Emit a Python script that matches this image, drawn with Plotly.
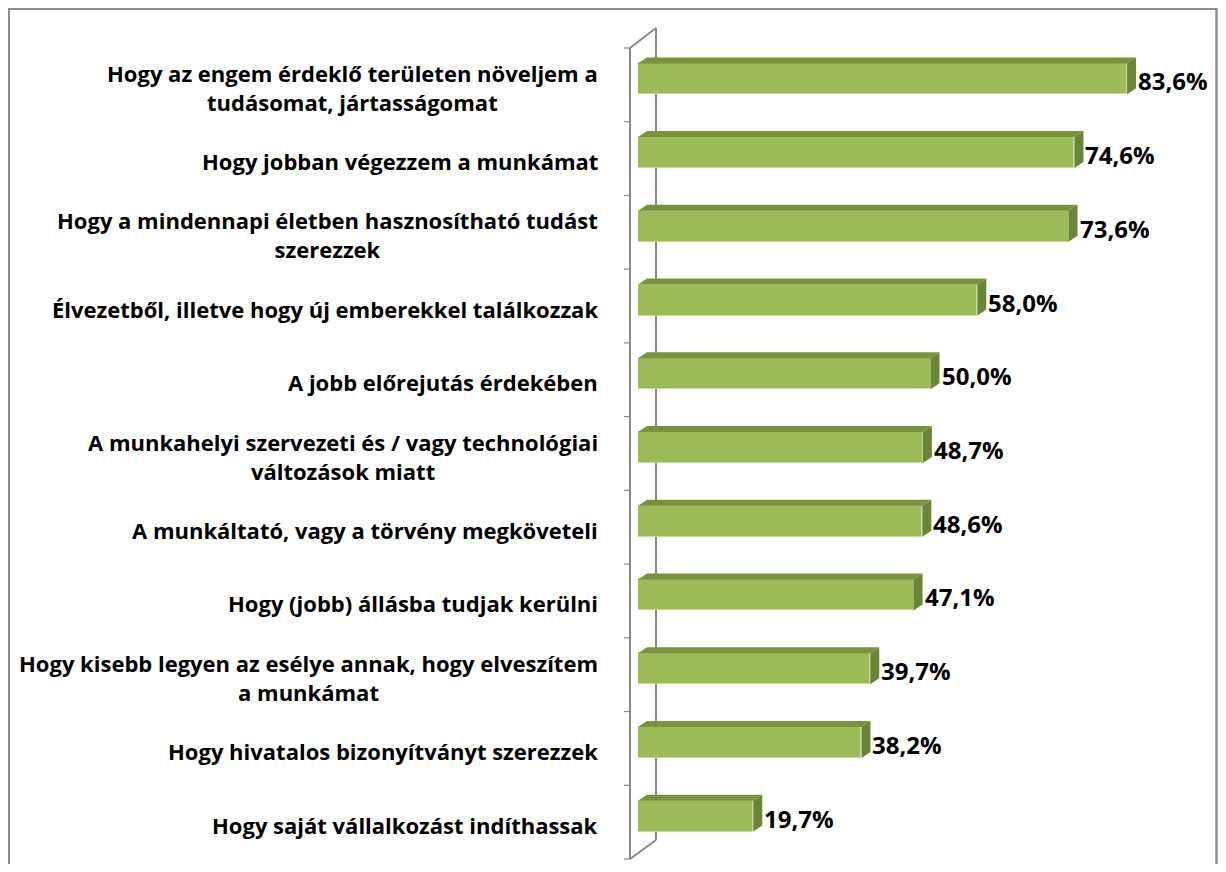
import plotly.graph_objects as go

categories = [
    "Hogy az engem érdeklő területen növeljem a<br>tudásomat, jártasságomat",
    "Hogy jobban végezzem a munkámat",
    "Hogy a mindennapi életben hasznosítható tudást<br>szerezzek",
    "Élvezetből, illetve hogy új emberekkel találkozzak",
    "A jobb előrejutás érdekében",
    "A munkahelyi szervezeti és / vagy technológiai<br>változások miatt",
    "A munkáltató, vagy a törvény megköveteli",
    "Hogy (jobb) állásba tudjak kerülni",
    "Hogy kisebb legyen az esélye annak, hogy elveszítem<br>a munkámat",
    "Hogy hivatalos bizonyítványt szerezzek",
    "Hogy saját vállalkozást indíthassak",
]
values = [83.6, 74.6, 73.6, 58.0, 50.0, 48.7, 48.6, 47.1, 39.7, 38.2, 19.7]
value_labels = ["83,6%", "74,6%", "73,6%", "58,0%", "50,0%", "48,7%", "48,6%", "47,1%", "39,7%", "38,2%", "19,7%"]

# ---- geometry in page pixels (figure is placed at page offset 8,8) ----
OFF = 8
FIG_W, FIG_H = 1226 - 2 * OFF, 872 - 2 * OFF
L, W = 638, 556          # plot area left / width (page px)
T, H = 42, 811           # plot area top / height (page px)
PX_PER = 5.85            # pixels per percent
XMAX = W / PX_PER
N = len(categories)
BAND = H / N
BAR_W = 0.42
DX = 9 / PX_PER          # 3D depth in data units
DY = 6 / BAND

FONT = "Open Sans"
FRONT = "#9BBB59"
TOP = "#77933C"
SIDE = "#6A8537"
AXIS = "#888888"


def px(x):
    return (x - L) / W


def py(y):
    return (T + H - y) / H


ypos = list(range(N))

fig = go.Figure()
fig.add_trace(go.Bar(
    x=values, y=ypos, orientation="h", width=BAR_W,
    marker=dict(color=FRONT, line=dict(color="#C9DCA0", width=1)),
    hoverinfo="skip",
))

shapes = []
for i, v in enumerate(values):
    y0 = i - BAR_W / 2
    y1 = i + BAR_W / 2
    top_path = f"M 0,{y0} L {v},{y0} L {v + DX},{y0 - DY} L {DX},{y0 - DY} Z"
    side_path = f"M {v},{y0} L {v + DX},{y0 - DY} L {v + DX},{y1 - DY} L {v},{y1} Z"
    shapes.append(dict(type="path", path=top_path, xref="x", yref="y",
                       fillcolor=TOP, line=dict(width=0), layer="above"))
    shapes.append(dict(type="path", path=side_path, xref="x", yref="y",
                       fillcolor=SIDE, line=dict(width=0), layer="above"))

# wall / axis decoration
fx, bx = 630, 656
ftop, fbot = 48, 859
btop, bbot = 28, 840
wall = [((fx, ftop), (fx, fbot)), ((bx, btop), (bx, bbot)),
        ((fx, ftop), (bx, btop)), ((fx, fbot), (bx, bbot))]
for (a, b) in wall:
    shapes.append(dict(type="line", xref="paper", yref="paper",
                       x0=px(a[0]), y0=py(a[1]), x1=px(b[0]), y1=py(b[1]),
                       line=dict(color=AXIS, width=2), layer="below"))
tick_step = (fbot - ftop) / N
for k in range(N + 1):
    yy = ftop + k * tick_step
    shapes.append(dict(type="line", xref="paper", yref="paper",
                       x0=px(624), y0=py(yy), x1=px(fx), y1=py(yy),
                       line=dict(color=AXIS, width=1.2), layer="below"))

# outer border
shapes.append(dict(type="rect", xref="paper", yref="paper",
                   x0=px(8.8), y0=py(900), x1=px(1216.5), y1=py(8.8),
                   line=dict(color="#8C8C8C", width=2.4), layer="below"))

annotations = []
for i, (c, lab) in enumerate(zip(categories, value_labels)):
    annotations.append(dict(
        x=px(600), xref="paper", y=i + 8.5 / BAND, yref="y",
        text=f"<b>{c}</b>", showarrow=False, xanchor="right", yanchor="middle",
        align="center", font=dict(family=FONT, size=22, color="#000000"),
    ))
    annotations.append(dict(
        x=values[i] + DX, xref="x", y=i + 2.0 / BAND, yref="y",
        text=f"<b>{lab}</b>", showarrow=False, xanchor="left", yanchor="middle",
        xshift=0, font=dict(family=FONT, size=24, color="#000000"),
    ))

fig.update_layout(
    width=FIG_W, height=FIG_H,
    margin=dict(l=L - OFF, r=FIG_W - (L - OFF) - W, t=T - OFF,
                b=FIG_H - (T - OFF) - H, pad=0),
    paper_bgcolor="white", plot_bgcolor="white",
    showlegend=False,
    xaxis=dict(range=[0, XMAX], visible=False, fixedrange=True),
    yaxis=dict(range=[N - 0.5, -0.5], visible=False, fixedrange=True),
    shapes=shapes, annotations=annotations,
    bargap=0,
)

fig.write_html("out.html")
